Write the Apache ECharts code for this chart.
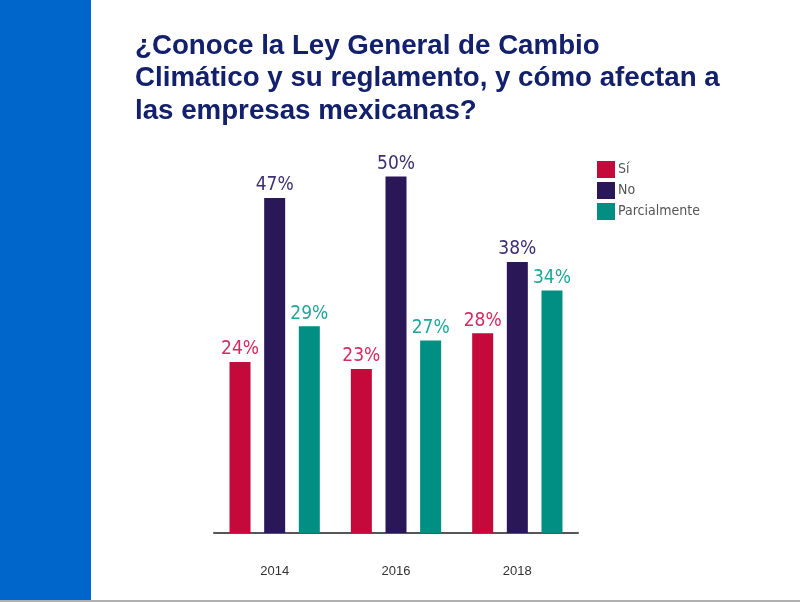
<!DOCTYPE html>
<html><head><meta charset="utf-8">
<script src="https://cdn.jsdelivr.net/npm/echarts@6/dist/echarts.min.js"></script>
<style>html,body{margin:0;padding:0;background:#fff}#c{width:800px;height:602px}</style>
</head><body><div id="c"></div>
<script>
const categories = ['2014', '2016', '2018'];
const seriesNames = ['Sí', 'No', 'Parcialmente'];
const si = [24, 23, 28];
const no = [47, 50, 38];
const parcialmente = [29, 27, 34];
const titleText = '¿Conoce la Ley General de Cambio\nClimático y su reglamento, y cómo afectan a\nlas empresas mexicanas?';

const barColors = ['#c5093b', '#2a1758', '#008f82'];
const labelColors = ['#d42a60', '#3d2f72', '#1fa89a'];
const values = [si, no, parcialmente];

const chart = echarts.init(document.getElementById('c'));
chart.setOption({
  animation: false,
  backgroundColor: '#fff',
  graphic: [
    { type: 'rect', left: 0, top: 0, shape: { width: 91, height: 600 }, style: { fill: '#0066cc' } },
    { type: 'rect', left: 0, top: 600, shape: { width: 800, height: 2 }, style: { fill: '#b0b0b0' } }
  ],
  title: {
    text: titleText,
    left: 130, top: 25,
    textStyle: { fontFamily: 'Liberation Sans', fontWeight: 'bold', fontSize: 27.7, lineHeight: 32.5, color: '#13206b' }
  },
  legend: {
    orient: 'vertical', left: 592, top: 156,
    itemWidth: 18, itemHeight: 17, itemGap: 4,
    icon: 'rect',
    textStyle: { fontFamily: "'DejaVu Sans Condensed', Roboto", fontWeight: 300, fontSize: 14, color: '#555', padding: [0, 0, 0, -2] },
    data: seriesNames
  },
  grid: { left: 214, right: 222, top: 176.5, bottom: 69 },
  xAxis: {
    type: 'category', data: categories,
    axisLine: { lineStyle: { color: '#555', width: 2 } },
    axisTick: { show: false },
    axisLabel: { margin: 32, fontFamily: 'Liberation Sans', fontSize: 13, color: '#333' }
  },
  yAxis: { type: 'value', min: 0, max: 50, show: false, splitLine: { show: false } },
  series: seriesNames.map((n, i) => ({
    name: n, type: 'bar', data: values[i],
    barWidth: 21, barGap: '65%',
    itemStyle: { color: barColors[i] },
    label: {
      show: true, position: 'top', distance: 3,
      formatter: '{c}%',
      fontFamily: "'DejaVu Sans Condensed', Roboto", fontWeight: 300, fontSize: 19, color: labelColors[i]
    }
  }))
});
</script></body></html>
